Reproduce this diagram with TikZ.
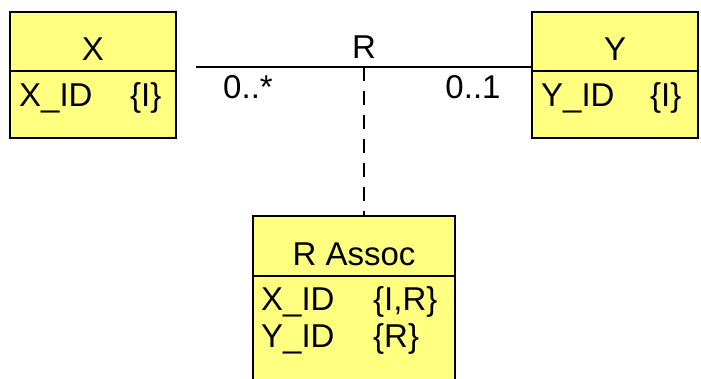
\documentclass[tikz,border=0pt]{standalone}
\usepackage{fontspec}
\setmainfont{Liberation Sans}
\definecolor{classfill}{RGB}{255,255,128}
\tikzset{
  classbox/.style={draw=black,fill=classfill,line width=1.6pt,inner sep=0pt},
  txt/.style={inner sep=0pt,anchor=base,font=\fontsize{33}{38}\selectfont},
  attr/.style={txt,anchor=base west},
  assoc/.style={line width=1.6pt}
}
\begin{document}
\begin{tikzpicture}[x=1pt,y=-1pt]
  \useasboundingbox (0,0) rectangle (701,378);
  % class X
  \node[classbox,minimum width=166pt,minimum height=126pt] (X) at (93,75) {};
  \draw[line width=1.4pt] (X.west |- 0,71) -- (X.east |- 0,71);
  \node[txt] (Xname) at (93,60) {X};
  \node[attr] (Xid) at (19,106) {X\_ID};
  \node[attr] (Xkey) at (130,106) {\{I\}};
  % class Y
  \node[classbox,minimum width=166pt,minimum height=126pt] (Y) at (615,75) {};
  \draw[line width=1.4pt] (Y.west |- 0,71) -- (Y.east |- 0,71);
  \node[txt] (Yname) at (615,60) {Y};
  \node[attr] (Yid) at (541,106) {Y\_ID};
  \node[attr] (Ykey) at (650,106) {\{I\}};
  % association class, runs off the bottom
  \node[classbox,minimum width=202pt,minimum height=180pt] (RA) at (354,306) {};
  \draw[line width=1.4pt] (RA.west |- 0,276) -- (RA.east |- 0,276);
  \node[txt] (RAname) at (354,265) {R Assoc};
  \node[attr] (RAx) at (261,310) {X\_ID};
  \node[attr] (RAxkey) at (373,310) {\{I,R\}};
  \node[attr] (RAy) at (261,347) {Y\_ID};
  \node[attr] (RAykey) at (373,347) {\{R\}};
  % association R
  \coordinate (rstart) at (196,67);
  \coordinate (rmid) at (364,67);
  \draw[assoc] (rstart) -- (Y.west |- rstart);
  \draw[assoc,dash pattern=on 14pt off 10pt] (rmid) -- (RA.north -| rmid);
  \node[txt] (Rname) at (364,58) {R};
  \node[txt] (Xmult) at (248,98) {0..*};
  \node[txt] (Ymult) at (473,98) {0..1};
\end{tikzpicture}
\end{document}
